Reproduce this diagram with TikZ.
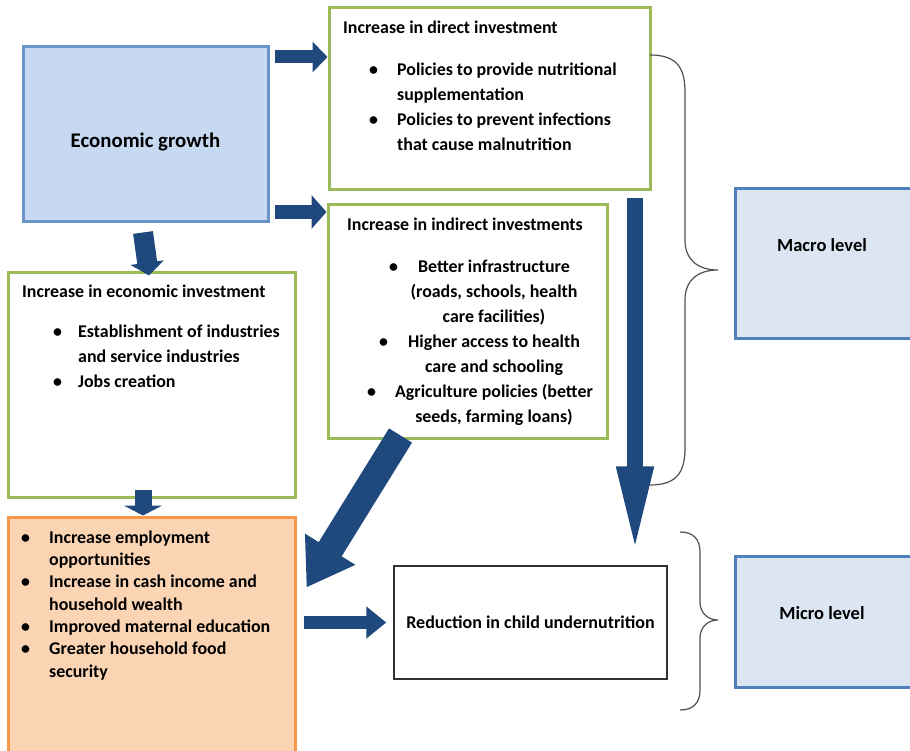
\documentclass[tikz,border=0pt]{standalone}
\usepackage{fontspec}
\setmainfont{Carlito}
\usetikzlibrary{arrows.meta}

\newcommand{\bul}[1][28pt]{\makebox[#1][l]{\textbullet}}
\newcommand{\cont}[1][28pt]{\hspace*{#1}}

\begin{document}
\begin{tikzpicture}[x=1pt,y=-1pt,
  box/.style={draw, line width=3pt, inner sep=0pt},
  greenbox/.style={box, draw=boxgreen, fill=white},
  bluebox/.style={box, draw=boxblue, fill=paleblue},
  txt/.style={inner sep=0pt, align=left, font=\fontsize{17.9}{25}\selectfont\bfseries},
  fat/.style={draw=arrowblue}]

% Office-like colours
\definecolor{boxgreen}{RGB}{155,187,89}
\definecolor{boxblue}{RGB}{79,129,189}
\definecolor{lightblue}{RGB}{198,217,241}
\definecolor{paleblue}{RGB}{220,230,242}
\definecolor{boxorange}{RGB}{247,150,70}
\definecolor{peach}{RGB}{251,212,180}
\definecolor{arrowblue}{RGB}{31,73,125}
\definecolor{bracegray}{RGB}{80,80,80}

\useasboundingbox (0,0) rectangle (910,751);
\clip (0,0) rectangle (910,751);

% Boxes
\node[bluebox, draw=boxblue!85!white, fill=lightblue, minimum width=245pt, minimum height=175pt,
  text height=26pt, text depth=0pt,
  font=\fontsize{20.8}{24}\selectfont\bfseries] (econ) at (145.5,134.5) {Economic growth};
\node[greenbox, minimum width=321pt, minimum height=182pt] (direct) at (489.5,99) {};
\node[greenbox, minimum width=279pt, minimum height=233pt] (indirect) at (467.5,321.5) {};
\node[greenbox, minimum width=287pt, minimum height=224pt] (econinv) at (151.5,385) {};
\node[box, draw=boxorange, fill=peach, minimum width=287pt, minimum height=243pt] (house) at (151.5,638.5) {};
\node[box, draw=black!80, line width=1.5pt, minimum width=273pt, minimum height=113pt,
  font=\fontsize{18}{25}\selectfont\bfseries] (child) at (530.5,622.5) {Reduction in child undernutrition};
\node[bluebox, minimum width=185pt, minimum height=149pt,
  text height=0pt, text depth=24pt,
  font=\fontsize{18.5}{25}\selectfont\bfseries] (macro) at (827.5,263.5) {\hspace*{-11pt}Macro level};
\node[bluebox, minimum width=185pt, minimum height=131pt,
  text height=6pt, text depth=10pt,
  font=\fontsize{18.5}{25}\selectfont\bfseries] (micro) at (827.5,621.5) {\hspace*{-11pt}Micro level};

% Box texts
\node[txt, anchor=north west] (directtitle) at (343,20.5) {Increase in direct investment};
\node[txt, anchor=north west] (directlist) at (369,62.5) {\bul Policies to provide nutritional\\
  \cont supplementation\\
  \bul Policies to prevent infections\\
  \cont that cause malnutrition};

\node[txt, anchor=north west] (indirecttitle) at (347,217.5) {Increase in indirect investments};
\node[txt, anchor=north, align=center] (indirectlist) at (494,259.5) {\llap{\textbullet\hspace{20pt}}Better infrastructure\\
  (roads, schools, health\\
  care facilities)\\
  \llap{\textbullet\hspace{20pt}}Higher access to health\\
  care and schooling\\
  \llap{\textbullet\hspace{19pt}}Agriculture policies (better\\
  seeds, farming loans)};

\node[txt, anchor=north west] (econinvtitle) at (22,284.5) {Increase in economic investment};
\node[txt, anchor=north west] (econinvlist) at (53,324.5) {\bul[25pt]Establishment of industries\\
  \cont[25pt]and service industries\\
  \bul[25pt]Jobs creation};

\node[txt, anchor=north west, font=\fontsize{17.9}{22.3}\selectfont\bfseries] (houselist) at (21,530.5) {\bul Increase employment\\
  \cont opportunities\\
  \bul Increase in cash income and\\
  \cont household wealth\\
  \bul Improved maternal education\\
  \bul Greater household food\\
  \cont security};

% Block arrows
\coordinate (a1) at (275,57);
\coordinate (a2) at (275,212);
\coordinate (v0) at (635,198);
\draw[fat, line width=13pt, -{Triangle[length=15pt,width=30pt]}] (a1) -- (a1 -| direct.west);
\draw[fat, line width=14pt, -{Triangle[length=15pt,width=33pt]}] (a2) -- (a2 -| indirect.west);
\draw[fat, line width=20pt, -{Triangle[length=13pt,width=33pt]}]
  ([shift={(-2.5pt,-9pt)}]econ.south) -- ([shift={(-2.5pt,-4pt)}]econinv.north);
\draw[fat, line width=17pt, -{Triangle[length=10pt,width=38pt]}]
  ([shift={(-8.5pt,9pt)}]econinv.south) -- ([xshift=-8.5pt]house.north);
\draw[fat, line width=13pt, -{Triangle[length=20pt,width=31pt]}]
  ([xshift=7pt]house.east |- child.west) -- ([xshift=-7pt]child.west);
\draw[fat, line width=27pt, -{Triangle[length=45pt,width=56pt]}]
  ([shift={(-67pt,4pt)}]indirect.south) -- ([shift={(10pt,-72pt)}]house.north east);
\draw[fat, line width=16pt, -{Triangle[length=89pt,width=33pt]}]
  (v0) -- ([yshift=10pt]v0 |- child.north);

% Level braces
\draw[bracegray, line width=1.2pt]
  (650,55) .. controls (677,55) and (685,68) .. (685,92) -- (685,240)
  .. controls (685,260) and (698,270) .. (718,270)
  .. controls (698,270) and (685,280) .. (685,300) -- (685,448)
  .. controls (685,472) and (677,485) .. (650,485);
\draw[bracegray, line width=1.2pt]
  (680,532) .. controls (694,532) and (700,540) .. (700,552) -- (700,602)
  .. controls (700,613) and (708,620) .. (718,620)
  .. controls (708,620) and (700,627) .. (700,638) -- (700,690)
  .. controls (700,702) and (694,710) .. (680,710);

\end{tikzpicture}
\end{document}
